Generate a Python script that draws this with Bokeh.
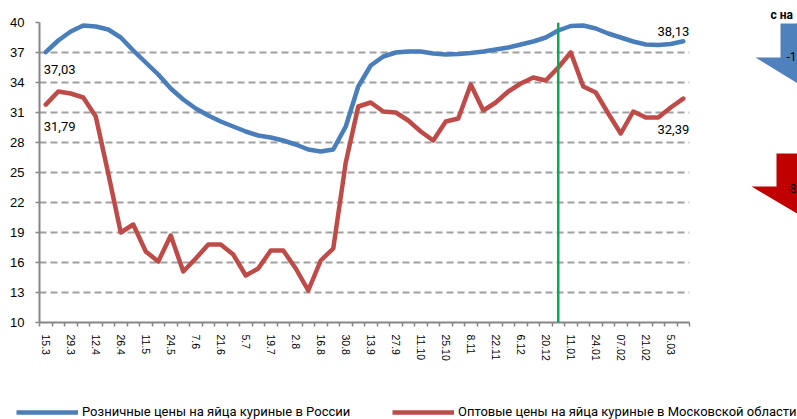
from bokeh.plotting import figure
from bokeh.layouts import row, column
from bokeh.models import (Range1d, FixedTicker, Span, Label, Legend, LegendItem)
from bokeh.embed import file_html
from bokeh.resources import INLINE

dates = ["15.3", "22.3", "29.3", "5.4", "12.4", "19.4", "26.4", "3.5", "11.5", "18.5",
         "24.5", "31.5", "7.6", "14.6", "21.6", "28.6", "5.7", "12.7", "19.7", "26.7",
         "2.8", "9.8", "16.8", "23.8", "30.8", "6.9", "13.9", "20.9", "27.9", "4.10",
         "11.10", "18.10", "25.10", "1.11", "8.11", "15.11", "22.11", "29.11", "6.12", "13.12",
         "20.12", "27.12", "11.01", "18.01", "24.01", "31.01", "07.02", "14.02", "21.02", "28.02",
         "5.03", "12.03"]

retail = [37.03, 38.2, 39.1, 39.7, 39.6, 39.3, 38.5, 37.2, 36.0, 34.8,
          33.4, 32.3, 31.4, 30.7, 30.1, 29.6, 29.1, 28.7, 28.5, 28.2,
          27.8, 27.3, 27.1, 27.3, 29.6, 33.6, 35.7, 36.6, 37.0, 37.1,
          37.1, 36.9, 36.8, 36.85, 36.95, 37.1, 37.3, 37.5, 37.8, 38.1,
          38.5, 39.2, 39.65, 39.7, 39.4, 38.9, 38.5, 38.1, 37.8, 37.75,
          37.85, 38.13]

wholesale = [31.79, 33.1, 32.9, 32.5, 30.6, 24.9, 19.0, 19.8, 17.1, 16.1,
             18.7, 15.1, 16.4, 17.8, 17.8, 16.8, 14.7, 15.4, 17.2, 17.2,
             15.4, 13.2, 16.2, 17.4, 26.0, 31.6, 32.0, 31.1, 31.0, 30.2,
             29.1, 28.2, 30.1, 30.4, 33.8, 31.2, 32.0, 33.1, 33.9, 34.5,
             34.2, 35.5, 37.0, 33.6, 33.0, 30.9, 28.9, 31.1, 30.5, 30.5,
             31.5, 32.39]

y_ticks = [10, 13, 16, 19, 22, 25, 28, 31, 34, 37, 40]
series_names = ["Розничные цены на яйца куриные в России",
                "Оптовые цены на яйца куриные в Московской области"]
marker_index = 41  # vertical green line (new year)
side_texts = ["с на", "-1", "-8"]

BLUE = "#4a7ebb"
RED = "#be4b48"

x = list(range(len(dates)))
n = len(dates)

p = figure(width=700, height=390, output_backend="svg", toolbar_location=None,
           x_range=Range1d(-0.5, n - 0.5), y_range=Range1d(10, 40),
           min_border_left=39, min_border_right=11, min_border_top=22,
           min_border_bottom=68)
p.outline_line_color = None
p.background_fill_color = "white"
p.border_fill_color = "white"
p.frame_align = False

# grid
p.xgrid.visible = False
p.ygrid.ticker = FixedTicker(ticks=y_ticks)
p.ygrid.grid_line_color = "#a0a0a0"
p.ygrid.grid_line_width = 2
p.ygrid.grid_line_dash = "7 4"

# axes
ax = p.xaxis[0]
ax.ticker = FixedTicker(ticks=x[::2], minor_ticks=[i - 0.5 for i in range(n + 1)])
ax.major_label_overrides = {i: dates[i] for i in x[::2]}
ax.major_label_orientation = "vertical"
ax.major_tick_out = 0
ax.major_tick_in = 0
ax.minor_tick_out = 4
ax.minor_tick_in = 0
ax.minor_tick_line_color = "#868686"
ax.minor_tick_line_width = 1.5
ax.axis_line_color = "#868686"
ax.axis_line_width = 2
ax.major_label_text_font = "Liberation Sans"
ax.major_label_text_font_size = "10.5px"
ax.major_label_text_color = "black"
ax.major_label_standoff = 8

ay = p.yaxis[0]
ay.ticker = FixedTicker(ticks=y_ticks)
ay.major_tick_out = 4
ay.major_tick_in = 0
ay.minor_tick_out = 0
ay.minor_tick_in = 0
ay.major_tick_line_color = "#868686"
ay.major_tick_line_width = 1.5
ay.axis_line_color = "#868686"
ay.axis_line_width = 2
ay.major_label_text_font = "Liberation Sans"
ay.major_label_text_font_size = "13px"
ay.major_label_text_color = "black"
ay.major_label_standoff = 11

p.line(x, retail, line_color=BLUE, line_width=4.5, line_join="round", line_cap="round")
p.line(x, wholesale, line_color=RED, line_width=4.5, line_join="round", line_cap="round")

p.add_layout(Span(location=marker_index, dimension="height", line_color="#00b050", line_width=2.5))

lab_font = "Roboto"
def add_label(ix, val, dx, dy, align):
    p.add_layout(Label(x=ix, y=val, x_offset=dx, y_offset=dy, text=f"{val:.2f}".replace(".", ","),
                       text_font=lab_font, text_font_size="13px", text_align=align,
                       text_baseline="alphabetic", text_color="black"))

add_label(0, retail[0], -2, -17, "left")
add_label(0, wholesale[0], -2, -22, "left")
add_label(n - 1, retail[-1], 6, 10, "right")
add_label(n - 1, wholesale[-1], 6, -31, "right")

# right-hand side panel with the arrows (coordinates = pixels)
side = figure(width=97, height=390, output_backend="svg", toolbar_location=None,
              x_range=Range1d(700, 797), y_range=Range1d(390, 0),
              x_axis_type=None, y_axis_type=None, min_border=0)
side.outline_line_color = None
side.xgrid.visible = False
side.ygrid.visible = False
side.frame_align = False

def arrow(cx, top, shoulder, tip, half_shaft, half_head, color):
    xs = [cx - half_shaft, cx + half_shaft, cx + half_shaft, cx + half_head, cx,
          cx - half_head, cx - half_shaft]
    ys = [top, top, shoulder, shoulder, tip, shoulder, shoulder]
    side.patch(xs, ys, fill_color=color, line_color=None)

arrow(802, 23, 57, 86, 22, 47, "#4f81bd")
arrow(800, 153, 186, 215, 24, 49, "#c00000")

side.add_layout(Label(x=770, y=14, text=side_texts[0], text_font="Roboto",
                      text_font_size="12px", text_font_style="bold",
                      text_baseline="alphabetic", text_color="black"))
side.add_layout(Label(x=786, y=56, text=side_texts[1], text_font="Roboto",
                      text_font_size="12px", text_baseline="alphabetic", text_color="black"))
side.add_layout(Label(x=786, y=188, text=side_texts[2], text_font="Roboto",
                      text_font_size="12px", text_baseline="alphabetic", text_color="black"))

# legend strip at the bottom
lf = figure(width=797, height=29, output_backend="svg", toolbar_location=None,
            x_range=Range1d(0, 1), y_range=Range1d(0, 1),
            x_axis_type=None, y_axis_type=None, min_border=0)
lf.outline_line_color = None
lf.xgrid.visible = False
lf.ygrid.visible = False
lf.frame_align = False
l1 = lf.line([5, 6], [5, 5], line_color=BLUE, line_width=4.5)
l2 = lf.line([5, 6], [5, 5], line_color=RED, line_width=4.5)

def mk_legend(label, r, loc, gw):
    return Legend(items=[LegendItem(label=label, renderers=[r])], location=loc,
                  glyph_width=gw, glyph_height=14, label_height=14, label_standoff=4,
                  padding=0, margin=0, border_line_color=None, background_fill_alpha=0,
                  label_text_font="Roboto", label_text_font_size="13px",
                  label_text_color="black")

lf.add_layout(mk_legend(series_names[0], l1, (16, 0), 62))
lf.add_layout(mk_legend(series_names[1], l2, (392, 0), 62))

layout = column(row(p, side), lf)
open("out.html", "w").write(file_html(layout, INLINE))
